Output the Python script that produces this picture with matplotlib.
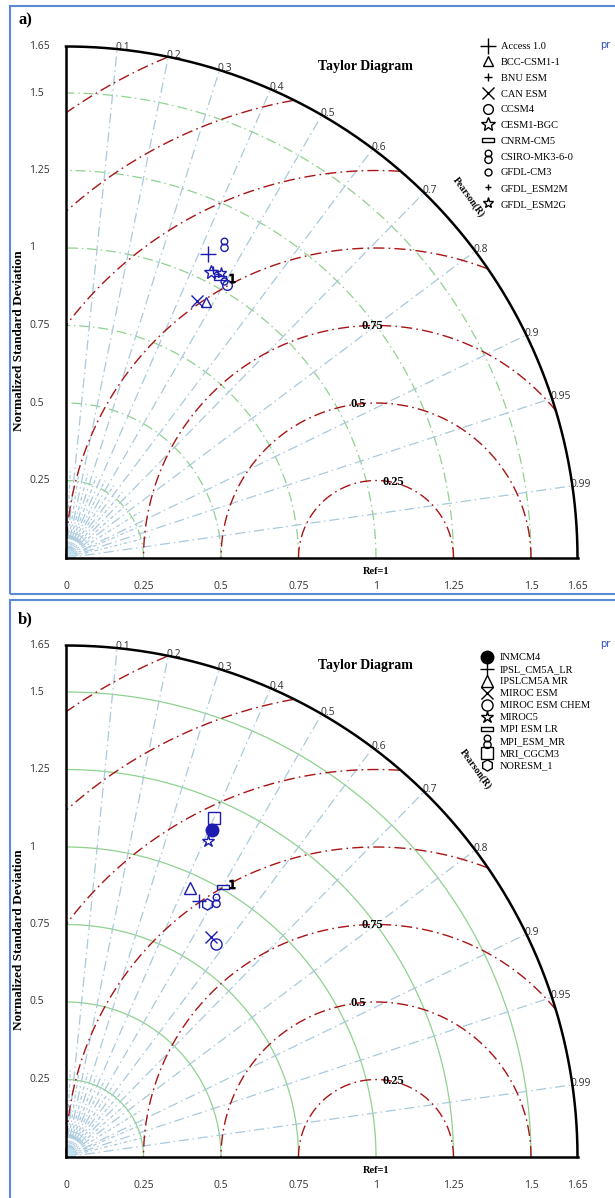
import numpy as np
import matplotlib
matplotlib.use('Agg')
import matplotlib.pyplot as plt
from matplotlib.lines import Line2D
from matplotlib.patches import Rectangle, Wedge
from matplotlib.path import Path

# Data
# ----
models_a = ['Access 1.0', 'BCC-CSM1-1', 'BNU ESM', 'CAN ESM', 'CCSM4', 'CESM1-BGC',
            'CNRM-CM5', 'CSIRO-MK3-6-0', 'GFDL-CM3', 'GFDL_ESM2M', 'GFDL_ESM2G']
std_a = [1.083, 0.940, 1.044, 0.930, 1.023, 1.036, 1.030, 1.134, 1.029, 1.038, 1.045]
corr_a = [0.424, 0.480, 0.455, 0.453, 0.508, 0.452, 0.483, 0.450, 0.496, 0.472, 0.478]

models_b = ['INMCM4', 'IPSL_CM5A_LR', 'IPSLCM5A MR', 'MIROC ESM', 'MIROC ESM CHEM',
            'MIROC5', 'MPI ESM LR', 'MPI_ESM_MR', 'MRI_CGCM3', 'NORESM_1']
std_b = [1.156, 0.931, 0.956, 0.850, 0.841, 1.118, 1.007, 0.961, 1.194, 0.933]
corr_b = [0.407, 0.462, 0.419, 0.550, 0.574, 0.411, 0.502, 0.504, 0.400, 0.487]

# stray black mark next to the cluster
extra_std = [1.050, 1.031]
extra_corr = [0.510, 0.519]

std_ticks = [0, 0.25, 0.5, 0.75, 1, 1.25, 1.5, 1.65]
std_arcs = [0.25, 0.5, 0.75, 1.0, 1.25, 1.5]
corr_ticks = [0.1, 0.2, 0.3, 0.4, 0.5, 0.6, 0.7, 0.8, 0.9, 0.95, 0.99]
fan_corr = [0.05, 0.15, 0.25, 0.35, 0.45, 0.55, 0.65, 0.75, 0.85, 0.92, 0.97]
rms_levels = [0.25, 0.5, 0.75, 1.0, 1.25, 1.5, 1.75]
rms_labels = [0.25, 0.5, 0.75]
rmax = 1.65

# Styles
# ------
rect = [(-1.5, -0.6), (1.5, -0.6), (1.5, 0.6), (-1.5, 0.6), (-1.5, -0.6)]
eight = Path.make_compound_path(Path.circle((0, 0.36), 0.4), Path.circle((0, -0.4), 0.44))
markers_a = ['+', '^', '+', 'x', 'o', '*', rect, eight, 'o', '+', '*']
msize_a = [12, 7, 6, 8, 7, 10, 8, 10, 5, 5, 8]
fill_a = ['none'] * 11
markers_b = ['o', '+', '^', 'x', 'o', '*', rect, eight, 's', 'h']
msize_b = [9, 10, 8, 9, 8, 9, 8, 10, 8, 8]
fill_b = ['full'] + ['none'] * 9

col_green = '#8fd28f'
col_blue = '#a9c9dc'
col_red = '#a81414'
col_mark = '#1c1cb0'
dashdot = (0, (8, 3, 1.2, 3))
tick_font = {'family': 'Open Sans', 'fontsize': 7.5, 'color': '#333333'}
serif_bold = {'family': 'Liberation Serif', 'fontweight': 'bold'}

fig = plt.figure(figsize=(6.15, 11.98), dpi=100)


def draw_taylor(ax, models, std, corr, markers, msize, fills, xs, xc, grid_ls,
                leg_anchor, leg_spacing, pearson_xy, label):
    ax.axis('off')
    t = np.linspace(0, np.pi / 2, 300)

    # std arcs
    for r in std_arcs:
        ax.plot(r * np.cos(t), r * np.sin(t), color=col_green, lw=0.9, ls=grid_ls, zorder=1)

    # correlation rays
    for c in corr_ticks:
        th = np.arccos(c)
        ax.plot([0, rmax * np.cos(th)], [0, rmax * np.sin(th)], color=col_blue, lw=0.9,
                ls=dashdot, zorder=1)
        ax.text(rmax * np.cos(th) - 0.005, rmax * np.sin(th) - 0.012, '%g' % c,
                ha='left', va='bottom', **tick_font)
    for c in fan_corr:
        th = np.arccos(c)
        ax.plot([0.03 * np.cos(th), 0.28 * np.cos(th)], [0.03 * np.sin(th), 0.28 * np.sin(th)],
                color=col_blue, lw=0.9, ls=(0, (3, 2, 1, 2)), zorder=1)
    ax.add_patch(Wedge((0, 0), 0.03, 0, 90, color='#bfe0f0', zorder=1))

    # rms arcs centred on the reference
    tt = np.linspace(0, np.pi, 800)
    for r in rms_levels:
        x = 1 + r * np.cos(tt)
        y = r * np.sin(tt)
        ok = (x >= 0) & (np.hypot(x, y) <= rmax)
        ax.plot(np.where(ok, x, np.nan), y, color=col_red, lw=1.0, ls=dashdot, zorder=2)
    for r, ang in zip(rms_labels, [77, 96.7, 91]):
        a = np.deg2rad(ang)
        ax.text(1 + r * np.cos(a), r * np.sin(a), '%g' % r, ha='center', va='center',
                fontsize=9, zorder=3, **serif_bold)

    # frame
    ax.plot(rmax * np.cos(t), rmax * np.sin(t), color='black', lw=1.8, zorder=4)
    ax.plot([0, 0], [0, rmax], color='black', lw=1.8, zorder=4)
    ax.plot([0, rmax], [0, 0], color='black', lw=1.8, zorder=4)

    # tick labels
    for v in std_ticks[1:]:
        ax.text(-0.119, v, '%g' % v, ha='left', va='center', **tick_font)
    for v in std_ticks:
        ax.text(v, -0.092, '%g' % v, ha='center', va='center', **tick_font)
    ax.text(1, -0.045, 'Ref=1', ha='center', va='center', fontsize=7.5, **serif_bold)
    ax.text(-0.15, 0.70, 'Normalized Standard Deviation', rotation=90, ha='center',
            va='center', fontsize=9.5, **serif_bold)
    ax.text(0.965, 1.585, 'Taylor Diagram', ha='center', va='center', fontsize=10, **serif_bold)
    ax.text(pearson_xy[0], pearson_xy[1], 'Pearson(R)', rotation=-54, ha='center',
            va='center', fontsize=7, **serif_bold)
    ax.text(1.74, 1.655, 'pr', ha='center', va='center', family='DejaVu Sans', fontsize=7,
            color='#3050c0')
    ax.text(-0.13, 1.735, label, ha='center', va='center', fontsize=12, **serif_bold)

    # model points
    handles = []
    for m, s, c, mk, ms, fs in zip(models, std, corr, markers, msize, fills):
        th = np.arccos(c)
        ax.plot(s * np.cos(th), s * np.sin(th), ls='none', marker=mk, ms=ms, mew=1.0,
                color=col_mark, fillstyle=fs, zorder=5)
        handles.append(Line2D([], [], ls='none', marker=mk, ms=ms, mew=1.0, color='black',
                              fillstyle=fs))
    th = np.arccos(xc)
    ax.plot(xs * np.cos(th), xs * np.sin(th), ls='none', marker='$1$', ms=6, color='black',
            zorder=5)

    ax.legend(handles, models, loc='upper left', bbox_to_anchor=leg_anchor,
              bbox_transform=fig.transFigure, frameon=False, borderpad=0, borderaxespad=0,
              handlelength=1.0, handletextpad=0.7, labelspacing=leg_spacing,
              prop={'family': 'Liberation Serif', 'size': 7.5})


# Panel a
# -------
ax1 = fig.add_axes([0, 0.5, 1, 0.5])
ax1.set_xlim(-66 / 310, 549 / 310)
ax1.set_ylim((558 - 599) / 310, 558 / 310)
draw_taylor(ax1, models_a, std_a, corr_a, markers_a, msize_a, fill_a, extra_std[0],
            extra_corr[0], dashdot, (483 / 615, 1 - 42 / 1198), 0.62, (1.30, 1.165), 'a)')

# Panel b
# -------
ax2 = fig.add_axes([0, 0, 1, 0.5])
ax2.set_xlim(-66 / 310, 549 / 310)
ax2.set_ylim((1157 - 1198) / 310, (1157 - 599) / 310)
draw_taylor(ax2, models_b, std_b, corr_b, markers_b, msize_b, fill_b, extra_std[1],
            extra_corr[1], '-', (482 / 615, 1 - 653 / 1198), 0.26, (1.32, 1.25), 'b)')

# panel borders
fig.patches.append(Rectangle((10 / 615, 1 - 594 / 1198), 1, 588 / 1198, fill=False,
                             ec='#5a8ad2', lw=1.5, transform=fig.transFigure))
fig.patches.append(Rectangle((10 / 615, -0.01), 1, 1 - 600 / 1198 + 0.01, fill=False,
                             ec='#5a8ad2', lw=1.5, transform=fig.transFigure))

plt.savefig('out.png', dpi=100, facecolor='w')
